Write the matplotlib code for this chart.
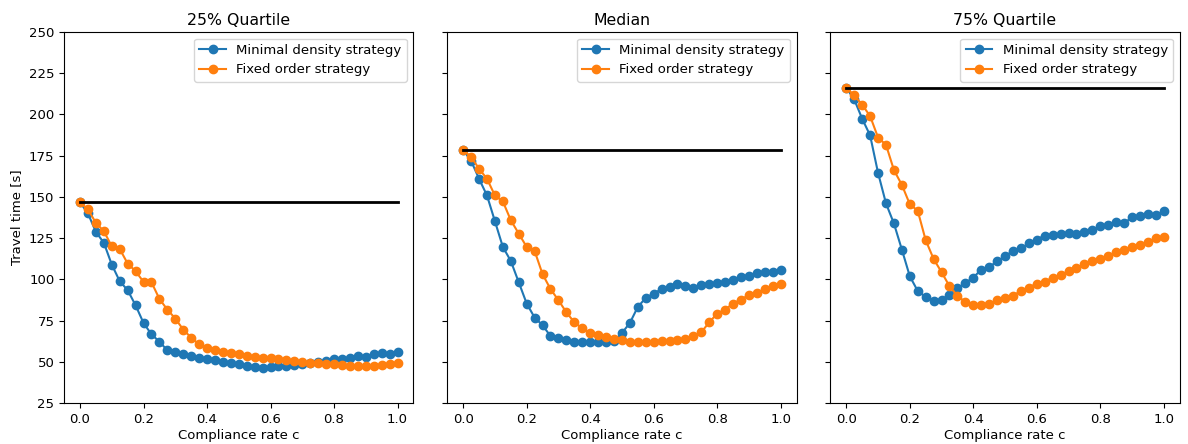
import matplotlib
matplotlib.use("Agg")
import matplotlib.pyplot as plt
import numpy as np

plt.rcParams['font.size'] = 9.5
plt.rcParams['axes.titlesize'] = 11.3

# compliance rate grid, 41 steps
compliance = np.linspace(0.0, 1.0, 41)

titles = ['25% Quartile', 'Median', '75% Quartile']

# baseline travel time (no compliance)
baseline = [146.7, 178.4, 216.2]

# --- 25% quartile
q25_min_density = [146.7, 140.0, 128.8, 122.2, 109.0, 98.9, 93.5, 84.3, 73.6, 66.7,
                   62.3, 57.0, 55.8, 54.6, 53.4, 52.4, 51.8, 51.0, 50.2, 49.4,
                   48.6, 47.5, 46.9, 46.5, 46.9, 47.3, 47.7, 48.2, 49.0, 49.4,
                   49.8, 50.6, 51.8, 51.8, 52.2, 53.4, 53.0, 55.0, 55.4, 55.0, 55.8]
q25_fixed_order = [146.7, 142.4, 134.3, 129.2, 120.1, 118.5, 109.6, 105.0, 98.5, 98.3,
                   88.2, 81.7, 76.3, 69.6, 64.7, 60.7, 58.7, 57.5, 56.3, 55.4,
                   54.6, 53.8, 53.0, 52.4, 52.2, 51.6, 51.2, 50.6, 50.0, 49.6,
                   49.4, 49.0, 48.6, 48.2, 47.8, 47.3, 47.7, 47.7, 48.2, 48.6, 49.4]

# --- median
med_min_density = [178.4, 171.9, 161.0, 150.9, 135.3, 119.7, 111.2, 98.3, 85.4, 76.9,
                   72.2, 65.7, 64.3, 63.1, 62.3, 62.3, 61.9, 62.3, 62.3, 62.7,
                   67.5, 73.6, 83.3, 88.8, 91.4, 94.2, 95.4, 97.1, 95.9, 94.7,
                   96.7, 97.5, 97.9, 98.3, 99.9, 101.5, 102.3, 103.9, 104.5, 104.8, 105.6]
med_fixed_order = [178.4, 174.3, 167.1, 161.0, 150.9, 147.3, 135.9, 127.8, 119.7, 117.3,
                   103.2, 94.2, 87.4, 80.1, 74.0, 70.4, 67.5, 66.3, 65.1, 63.9,
                   63.1, 62.3, 62.3, 62.3, 62.3, 62.7, 62.7, 63.1, 63.9, 66.0,
                   68.0, 74.0, 79.3, 81.7, 85.4, 87.8, 90.6, 91.8, 94.2, 95.9, 97.5]

# --- 75% quartile
q75_min_density = [216.2, 209.1, 197.4, 187.3, 164.6, 146.1, 133.9, 118.1, 101.9, 93.0,
                   89.4, 87.0, 87.4, 90.6, 94.7, 97.9, 101.1, 106.0, 107.6, 110.9,
                   114.1, 117.3, 118.9, 121.8, 124.2, 126.6, 127.0, 127.8, 128.2, 127.8,
                   129.0, 130.2, 132.3, 133.1, 135.1, 133.9, 137.9, 138.3, 139.6, 138.8, 141.2]
q75_fixed_order = [216.2, 211.6, 205.9, 199.0, 186.0, 181.6, 166.3, 157.3, 145.6, 141.6,
                   123.8, 112.4, 104.4, 95.9, 90.2, 86.2, 84.6, 84.2, 85.4, 87.4,
                   88.6, 90.2, 93.0, 95.1, 97.5, 98.7, 101.1, 102.7, 105.1, 106.8,
                   109.2, 111.2, 112.4, 114.5, 116.5, 117.7, 119.7, 120.9, 122.9, 125.0, 125.8]

min_density = [q25_min_density, med_min_density, q75_min_density]
fixed_order = [q25_fixed_order, med_fixed_order, q75_fixed_order]


fig, axes = plt.subplots(1, 3, figsize=(11.88, 4.44), dpi=100, sharey=True)
fig.subplots_adjust(left=0.054, right=0.993, bottom=0.092, top=0.928, wspace=0.097)

for i, ax in enumerate(axes):
    ax.plot(compliance, min_density[i], 'o-', color='C0', label='Minimal density strategy')
    ax.plot(compliance, fixed_order[i], 'o-', color='C1', label='Fixed order strategy')
    ax.plot([compliance[0], compliance[-1]], [baseline[i], baseline[i]], 'k-', lw=2)
    ax.set_title(titles[i], pad=5)
    ax.set_xlabel('Compliance rate c', labelpad=2)
    ax.set_ylim(25, 250)
    ax.set_yticks(np.arange(25, 251, 25))
    ax.legend(loc='upper right')

axes[0].set_ylabel('Travel time [s]')

fig.savefig('out.png', dpi=100)
